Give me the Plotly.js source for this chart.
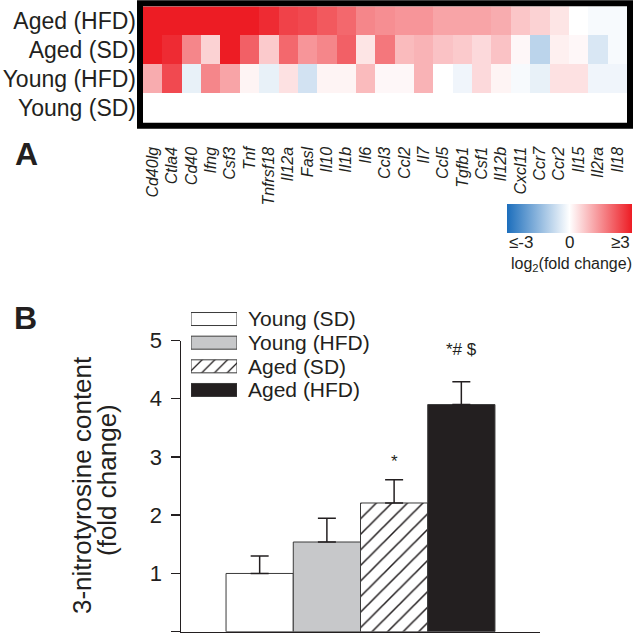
<!DOCTYPE html>
<html>
<head>
<meta charset="utf-8">
<script src="https://cdn.plot.ly/plotly-3.0.1.min.js"></script>
<style>
  html, body { margin: 0; padding: 0; background: #fff; }
  #chart { width: 634px; height: 640px; }
</style>
</head>
<body>
<div id="chart"></div>
<script>
// panel A: log2 fold change of cytokine genes, panel B: 3-nitrotyrosine content

var genes = ['Cd40lg', 'Ctla4', 'Cd40', 'Ifng', 'Csf3', 'Tnf', 'Tnfrsf18', 'Il12a', 'Fasl', 'Il10',
    'Il1b', 'Il6', 'Ccl3', 'Ccl2', 'Il7', 'Ccl5', 'Tgfb1', 'Csf1', 'Il12b', 'Cxcl11',
    'Ccr7', 'Ccr2', 'Il15', 'Il2ra', 'Il18'];

var rowLabels = ['Aged (HFD)', 'Aged (SD)', 'Young (HFD)', 'Young (SD)'];

var agedHFD = [3, 3, 3, 3, 3, 3, 2.8, 2.5, 2.4, 2.2,
    2.0, 1.6, 1.5, 1.4, 1.4, 1.2, 1.2, 1.2, 1.1, 0.75,
    0.6, 0.35, 0, -0.1, -0.1];
var agedSD = [3, 2.8, 1.6, 0.6, 3, 2.1, 0.7, 2.0, 1.4, 1.6,
    2.1, 0.35, 1.8, 0.9, 1.0, 0.8, 0.7, 0.5, 0.8, 0.1,
    -0.9, 0.2, 0.1, -0.5, -0.1];
var youngHFD = [1.1, 2.4, -0.3, 1.6, 1.2, 0.15, -0.3, 0.4, -0.6, 0.15,
    0.15, 0.9, 0.1, 0.1, 1.0, 0, -0.2, 0.5, 0.15, -0.1,
    -0.3, 0.4, 0.4, -0.2, -0.2];
var youngSD = [0, 0, 0, 0, 0, 0, 0, 0, 0, 0,
    0, 0, 0, 0, 0, 0, 0, 0, 0, 0,
    0, 0, 0, 0, 0];

var cbTickVals = [-3, 0, 3];
var cbTickText = ['\u2264-3', '0', '\u22653'];

var groups = ['Young (SD)', 'Young (HFD)', 'Aged (SD)', 'Aged (HFD)'];
var nitro = [1.0, 1.54, 2.21, 3.90];
var nitroErr = [0.30, 0.41, 0.40, 0.39];
var sigMarks = ['', '', '*', '*# $'];
var sigY = [null, null, 2.92, 4.84];

var barColors = ['#ffffff', '#c7c8ca', '#ffffff', '#231f20'];
var barPatterns = ['', '', '/', ''];

// pixel -> paper helpers (margins are zero, so paper == page)
function px(x) { return x / 634; }
function py(y) { return 1 - y / 640; }

var font = 'Liberation Sans, Arial, Helvetica, sans-serif';

var heat = {
    type: 'heatmap',
    x: genes,
    y: rowLabels,
    z: [agedHFD, agedSD, youngHFD, youngSD],
    zmin: -3,
    zmax: 3,
    colorscale: [[0, 'rgb(28,110,188)'], [0.5, 'rgb(255,255,255)'], [1, 'rgb(237,28,36)']],
    xaxis: 'x',
    yaxis: 'y',
    colorbar: {
        orientation: 'h',
        x: px(507), xanchor: 'left',
        y: py(204), yanchor: 'top',
        len: 125, lenmode: 'pixels',
        thickness: 29,
        xpad: 0, ypad: 0,
        outlinewidth: 0,
        tickvals: cbTickVals,
        showticklabels: false,
        ticks: ''
    }
};

var data = [heat];

// one trace per group so each bar gets its own fill / hatch
groups.forEach(function(g, i) {
    var marker = {
        color: barColors[i],
        line: { color: '#3a3a3a', width: 1 }
    };
    if (barPatterns[i] !== '') {
        marker.pattern = {
            shape: barPatterns[i], fgcolor: '#231f20', bgcolor: '#ffffff',
            fgopacity: 1, size: 11, solidity: 0.14, fillmode: 'overlay'
        };
    }
    data.push({
        type: 'bar',
        x: [g],
        y: [nitro[i]],
        xaxis: 'x2',
        yaxis: 'y2',
        width: 1,
        marker: marker,
        error_y: {
            type: 'data',
            symmetric: false,
            array: [nitroErr[i]],
            arrayminus: [0],
            color: '#231f20',
            thickness: 1.5,
            width: 9
        },
        cliponaxis: false,
        showlegend: false
    });
    // legend swatch drawn as a small horizontal bar on its own axes
    var lmarker = JSON.parse(JSON.stringify(marker));
    if (lmarker.pattern) lmarker.pattern.size = 9;
    data.push({
        type: 'bar',
        orientation: 'h',
        y: [g],
        x: [1],
        xaxis: 'x3',
        yaxis: 'y3',
        width: 0.55,
        marker: lmarker,
        showlegend: false
    });
});

var annotations = [
    { text: '<b>A</b>', x: px(26), y: py(154), font: { size: 32 } },
    { text: '<b>B</b>', x: px(25), y: py(318), font: { size: 32 } },
    { text: 'log<sub>2</sub>(fold change)', x: px(571), y: py(264), font: { size: 16 } },
    { text: '3-nitrotyrosine content', x: px(82), y: py(485), textangle: -90, font: { size: 26 } },
    { text: '(fold change)', x: px(107), y: py(480), textangle: -90, font: { size: 26 } }
];
annotations.forEach(function(a) {
    a.xref = 'paper'; a.yref = 'paper'; a.showarrow = false;
    a.xanchor = 'center'; a.yanchor = 'middle';
    a.font.family = font; a.font.color = '#231f20';
});

// colorbar tick labels (left/right aligned under the bar ends)
var cbAnchors = ['left', 'center', 'right'];
var cbX = [507, 569.5, 632];
cbTickText.forEach(function(t, i) {
    annotations.push({
        text: t, xref: 'paper', yref: 'paper', x: px(cbX[i]), y: py(243),
        xanchor: cbAnchors[i], yanchor: 'middle', showarrow: false,
        font: { family: font, size: 17, color: '#231f20' }
    });
});

// significance marks above the error bars
groups.forEach(function(g, i) {
    if (sigMarks[i] === '') return;
    annotations.push({
        text: sigMarks[i], xref: 'x2', yref: 'y2', x: g, y: sigY[i],
        showarrow: false, xanchor: 'center', yanchor: 'middle',
        font: { family: font, size: 17, color: '#231f20' }
    });
});

var layout = {
    width: 634,
    height: 640,
    margin: { l: 0, r: 0, t: 0, b: 0, pad: 0 },
    paper_bgcolor: '#ffffff',
    plot_bgcolor: 'rgba(0,0,0,0)',
    font: { family: font, color: '#231f20' },
    showlegend: false,
    barmode: 'overlay',
    xaxis: {
        domain: [px(143), px(627)],
        anchor: 'y',
        ticks: '',
        tickangle: -90,
        ticklabelstandoff: 20,
        tickfont: { size: 16, style: 'italic', color: '#231f20' },
        showgrid: false,
        zeroline: false
    },
    yaxis: {
        domain: [py(122.7), py(6.3)],
        anchor: 'x',
        autorange: 'reversed',
        ticks: '',
        ticklabelstandoff: 6,
        tickfont: { size: 23, color: '#231f20' },
        showgrid: false,
        zeroline: false
    },
    xaxis2: {
        domain: [px(181), px(540)],
        anchor: 'y2',
        range: [-1.17, 4.17],
        showline: true,
        linecolor: '#231f20',
        linewidth: 1.5,
        showticklabels: false,
        ticks: '',
        showgrid: false,
        zeroline: false
    },
    yaxis2: {
        domain: [py(631.7), py(340.5)],
        anchor: 'x2',
        range: [0, 5],
        dtick: 1,
        showline: true,
        linecolor: '#231f20',
        linewidth: 1.5,
        ticks: 'outside',
        ticklen: 9,
        tickwidth: 1.5,
        tickcolor: '#231f20',
        tickfont: { size: 22, color: '#231f20' },
        ticklabelstandoff: 4,
        showgrid: false,
        zeroline: false
    },
    xaxis3: {
        domain: [px(191), px(237)],
        anchor: 'y3',
        range: [0, 1],
        visible: false,
        fixedrange: true
    },
    yaxis3: {
        domain: [py(401.8), py(307.2)],
        anchor: 'x3',
        side: 'right',
        autorange: 'reversed',
        tickmode: 'linear',
        tick0: 0,
        dtick: 1,
        ticks: '',
        ticklabelstandoff: 10,
        tickfont: { size: 21, color: '#231f20' },
        showgrid: false,
        zeroline: false,
        showline: false
    },
    shapes: [{
        type: 'rect', xref: 'paper', yref: 'paper',
        x0: px(140), x1: px(630), y0: py(3.2), y1: py(125.8),
        line: { color: '#000000', width: 6 },
        fillcolor: 'rgba(0,0,0,0)'
    }],
    annotations: annotations
};

Plotly.newPlot('chart', data, layout, { displayModeBar: false, staticPlot: true });
</script>
</body>
</html>
